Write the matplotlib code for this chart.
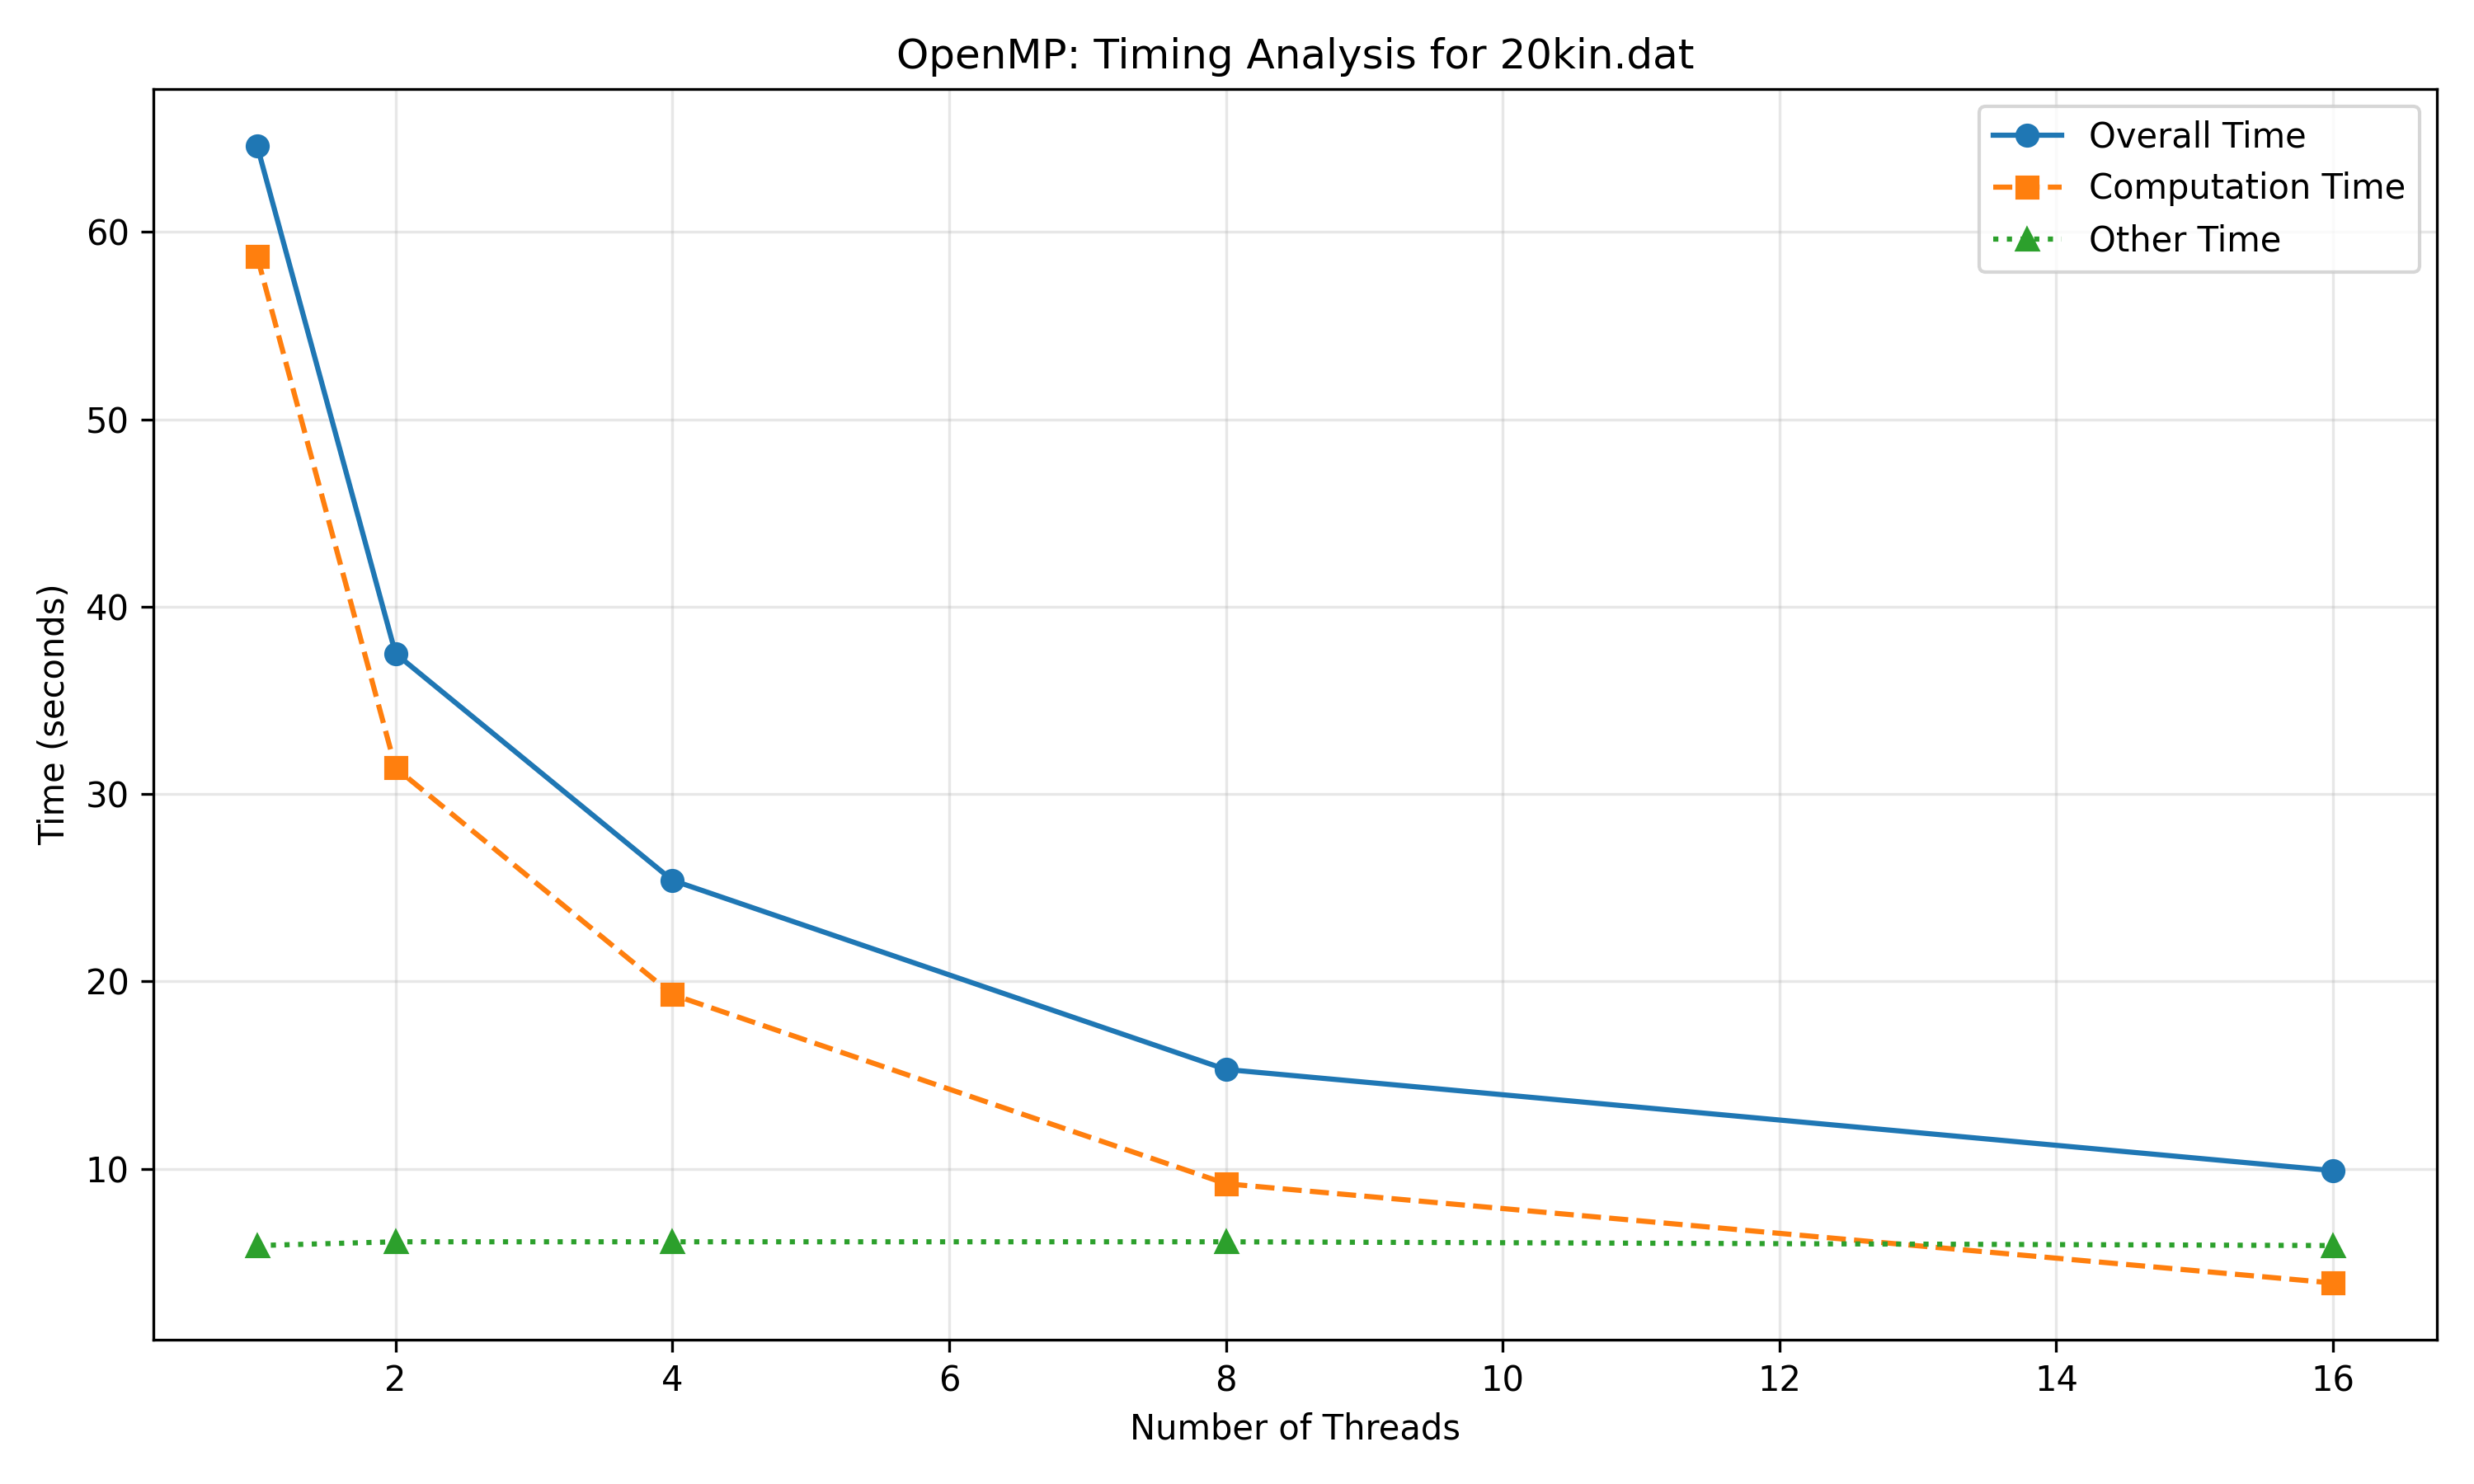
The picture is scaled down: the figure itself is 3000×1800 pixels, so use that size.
import matplotlib
matplotlib.use("Agg")
import matplotlib.pyplot as plt

# thread counts and measured times (seconds)
threads = [1, 2, 4, 8, 16]
overall_time = [64.6, 37.5, 25.4, 15.3, 9.9]
computation_time = [58.7, 31.4, 19.3, 9.2, 3.9]
other_time = [5.9, 6.1, 6.1, 6.1, 5.9]

fig, ax = plt.subplots(figsize=(10, 6), dpi=300)

ax.plot(threads, overall_time, 'o-', label='Overall Time')
ax.plot(threads, computation_time, 's--', label='Computation Time')
ax.plot(threads, other_time, '^:', label='Other Time')

ax.set_title('OpenMP: Timing Analysis for 20kin.dat')
ax.set_xlabel('Number of Threads')
ax.set_ylabel('Time (seconds)')
ax.grid(True, alpha=0.3)
ax.legend()

fig.tight_layout()
fig.savefig('out.png')
